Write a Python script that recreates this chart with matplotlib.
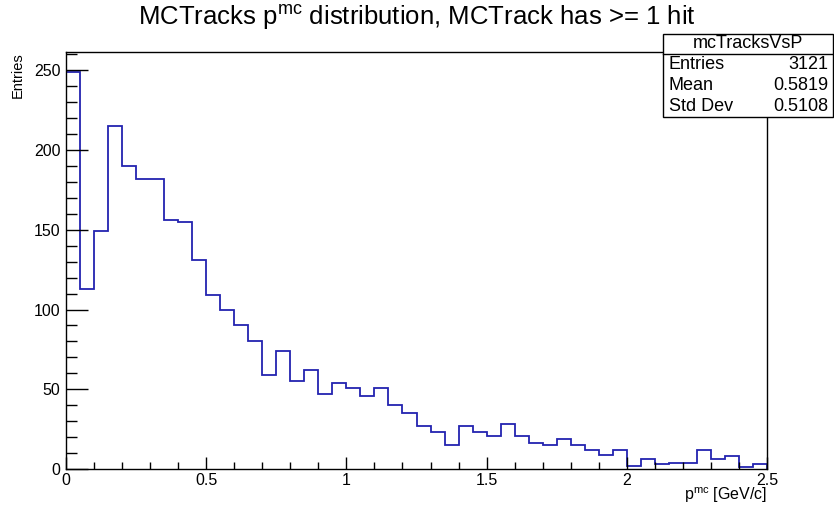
import numpy as np
import matplotlib
matplotlib.use("Agg")
import matplotlib.pyplot as plt
from matplotlib.ticker import MultipleLocator

plt.rcParams['font.family'] = ['Liberation Sans', 'DejaVu Sans']

# histogram of p_mc, 50 bins from 0 to 2.5 GeV/c
bin_lo = 0.0
bin_hi = 2.5
counts = [249, 113, 149, 215, 190, 182, 182, 156, 155, 131,
          109, 100, 90, 80, 59, 74, 55, 62, 47, 54,
          51, 46, 51, 40, 35, 27, 23, 15, 27, 23,
          21, 28, 21, 16, 15, 19, 15, 12, 9, 12,
          2, 6, 3, 4, 4, 12, 6, 8, 1, 3]

stats_name = "mcTracksVsP"
stats_rows = [("Entries", "3121"), ("Mean", "0.5819"), ("Std Dev", "0.5108")]

edges = np.linspace(bin_lo, bin_hi, len(counts) + 1)

fig = plt.figure(figsize=(8.34, 5.09), dpi=100)
ax = fig.add_axes([66 / 834, 40 / 509, 701 / 834, 417 / 509])

ax.stairs(counts, edges, color='#2323b0', linewidth=1.3)

ax.set_xlim(bin_lo, bin_hi)
ax.set_ylim(0, max(counts) * 1.05)

ax.xaxis.set_major_locator(MultipleLocator(0.5))
ax.xaxis.set_minor_locator(MultipleLocator(0.1))
ax.yaxis.set_major_locator(MultipleLocator(50))
ax.yaxis.set_minor_locator(MultipleLocator(10))
ax.xaxis.set_major_formatter(plt.FuncFormatter(lambda v, p: f"{v:g}"))
ax.yaxis.set_major_formatter(plt.FuncFormatter(lambda v, p: f"{v:g}"))

ax.tick_params(axis='x', which='major', direction='in', length=9, width=1,
               labelsize=11.5, pad=3, top=False)
ax.tick_params(axis='x', which='minor', direction='in', length=5, width=1, top=False)
ax.tick_params(axis='y', which='major', direction='in', length=16, width=1,
               labelsize=11.5, pad=4, right=False)
ax.tick_params(axis='y', which='minor', direction='in', length=8, width=1, right=False)
for s in ax.spines.values():
    s.set_linewidth(1.0)

fig.text(417 / 834, 1 - 17 / 509, r"MCTracks p$^{\mathregular{mc}}$ distribution, MCTrack has >= 1 hit",
         ha='center', va='center', fontsize=18.5)
fig.text(18 / 834, 1 - 52 / 509, "Entries", rotation=90, ha='center', va='top', fontsize=10.5)
fig.text(767 / 834, 1 - 500 / 509, r"p$^{\mathregular{mc}}$ [GeV/c]", ha='right', va='baseline',
         fontsize=11.5)

# stats box in the upper right corner
bx0, bx1 = 663 / 834, 833 / 834
by_top, by_head, by_bot = 1 - 34 / 509, 1 - 54 / 509, 1 - 117 / 509
box = plt.Rectangle((bx0, by_bot), bx1 - bx0, by_top - by_bot, transform=fig.transFigure,
                    facecolor='white', edgecolor='black', linewidth=1.0, zorder=5)
fig.add_artist(box)
fig.add_artist(plt.Line2D([bx0, bx1], [by_head, by_head], transform=fig.transFigure,
                          color='black', linewidth=1.0, zorder=6))
fig.text((bx0 + bx1) / 2, (by_top + by_head) / 2, stats_name, ha='center', va='center',
         fontsize=13, zorder=7)
row_h = (by_head - by_bot) / len(stats_rows)
for i, (label, value) in enumerate(stats_rows):
    yc = by_head - row_h * (i + 0.5)
    fig.text(669 / 834, yc, label, ha='left', va='center', fontsize=13, zorder=7)
    fig.text(828 / 834, yc, value, ha='right', va='center', fontsize=13, zorder=7)

fig.savefig("out.png", dpi=100)
